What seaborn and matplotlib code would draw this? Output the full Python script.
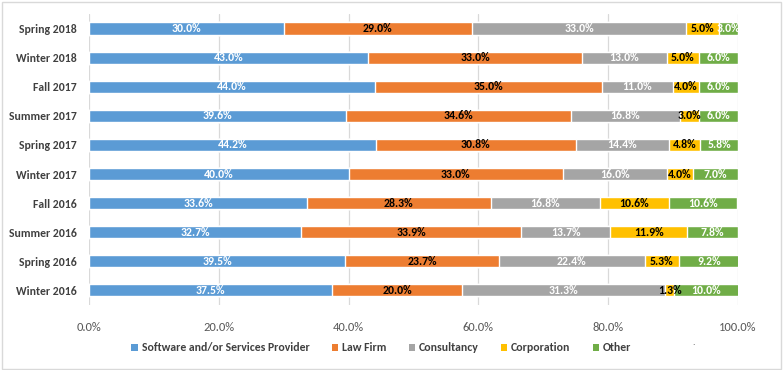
import pandas as pd
import numpy as np
import matplotlib.pyplot as plt
import seaborn as sns
from matplotlib.patches import Rectangle, Patch

# data, top row first as in the chart
terms = ["Spring 2018", "Winter 2018", "Fall 2017", "Summer 2017", "Spring 2017",
         "Winter 2017", "Fall 2016", "Summer 2016", "Spring 2016", "Winter 2016"]
software = [30.0, 43.0, 44.0, 39.6, 44.2, 40.0, 33.6, 32.7, 39.5, 37.5]
law_firm = [29.0, 33.0, 35.0, 34.6, 30.8, 33.0, 28.3, 33.9, 23.7, 20.0]
consultancy = [33.0, 13.0, 11.0, 16.8, 14.4, 16.0, 16.8, 13.7, 22.4, 31.3]
corporation = [5.0, 5.0, 4.0, 3.0, 4.8, 4.0, 10.6, 11.9, 5.3, 1.3]
other = [3.0, 6.0, 6.0, 6.0, 5.8, 7.0, 10.6, 7.8, 9.2, 10.0]

series = ["Software and/or Services Provider", "Law Firm", "Consultancy", "Corporation", "Other"]
colors = ["#5B9BD5", "#ED7D31", "#A5A5A5", "#FFC000", "#70AD47"]
label_colors = ["white", "black", "white", "black", "white"]

df = pd.DataFrame({"term": terms, series[0]: software, series[1]: law_firm,
                   series[2]: consultancy, series[3]: corporation, series[4]: other})

sns.set_style("white")
plt.rcParams['font.family'] = ['Carlito', 'DejaVu Sans']

fig = plt.figure(figsize=(7.83, 3.70), dpi=100)
ax = fig.add_axes([0.1137, 0.176, 0.8288, 0.786])

# stacked bars: draw the cumulative totals, longest first
cum = df[series].cumsum(axis=1)
for i in range(len(series) - 1, -1, -1):
    sns.barplot(x=cum[series[i]], y=df["term"], orient="h", color=colors[i],
                width=0.42, saturation=1, ax=ax, zorder=2)

# value labels
for i, s in enumerate(series):
    left = cum[s] - df[s]
    for j, v in enumerate(df[s]):
        ax.text(left[j] + v / 2, j, f"{v:.1f}%", ha="center", va="center",
                color=label_colors[i], fontsize=8.5, fontweight="bold", zorder=3)

ax.set_xlim(0, 100)
ax.set_ylim(9.5, -0.5)
ax.set_xticks(np.arange(0, 101, 20))
ax.set_xticklabels([f"{t:.1f}%" for t in range(0, 101, 20)], color="#595959", fontsize=9)
ax.set_yticks(range(len(terms)))
ax.set_yticklabels(terms, color="#404040", fontsize=8.5, fontweight="bold")
ax.tick_params(axis="y", length=0, pad=9)
ax.tick_params(axis="x", length=0, pad=12)
ax.xaxis.grid(True, color="#D9D9D9", linewidth=0.9, zorder=0)
ax.set_axisbelow(True)
ax.set_xlabel("")
ax.set_ylabel("")
for sp in ax.spines.values():
    sp.set_visible(False)

handles = [Patch(facecolor=c, edgecolor="none") for c in colors]
fig.legend(handles, series, loc="center", bbox_to_anchor=(0.487, 0.06), ncol=5,
           frameon=False, prop={"size": 8.5, "weight": "bold"}, handlelength=0.55,
           handleheight=0.55, columnspacing=1.9, handletextpad=0.3, labelcolor="#404040")
fig.text(0.884, 0.067, ".", fontsize=7, color="#404040")

# chart frame
fig.patches.append(Rectangle((0.002, 0.004), 0.995, 0.99, transform=fig.transFigure,
                             fill=False, edgecolor="#D9D9D9", linewidth=1))

fig.savefig("out.png", dpi=100)
